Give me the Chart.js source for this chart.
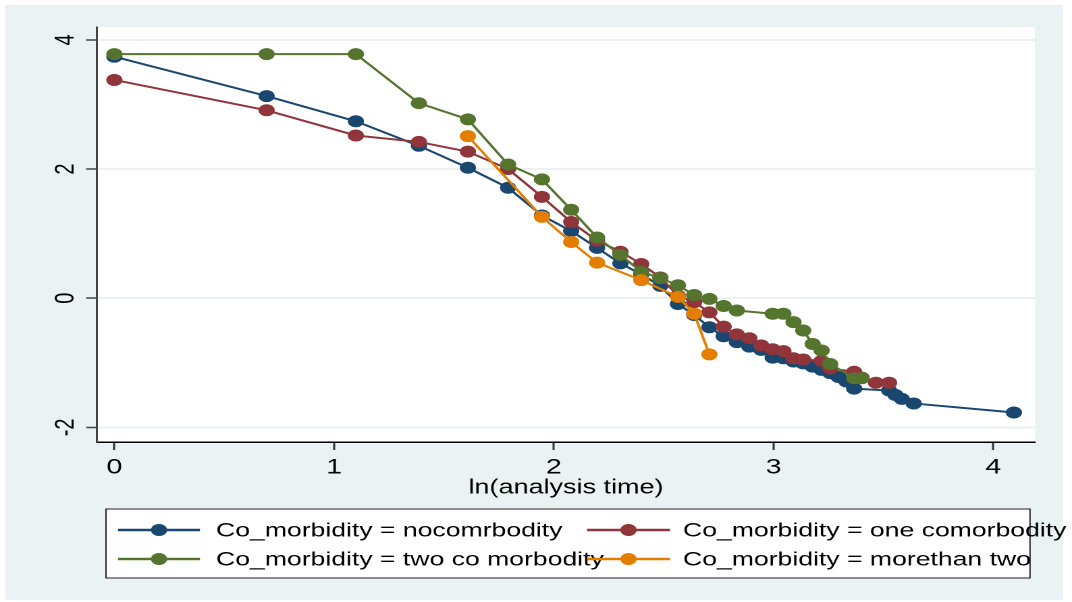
<!DOCTYPE html>
<html><head><meta charset="utf-8">
<script src="https://cdn.jsdelivr.net/npm/chart.js@4.4.1/dist/chart.umd.min.js"></script>
<style>
html,body{margin:0;padding:0;background:#fff;}
#wrap{width:1072px;height:602px;overflow:hidden;}
canvas{display:block;}
</style></head><body>
<div id="wrap"><canvas id="c" width="794" height="602" style="width:1072px;height:602px"></canvas></div>
<script>
// ---- data ----
const seriesLabels = [
  'Co_morbidity = nocomrbodity',
  'Co_morbidity = one comorbodity',
  'Co_morbidity = two co morbodity',
  'Co_morbidity = morethan two'
];
const seriesColors = ['#1a476f', '#90353b', '#55752f', '#e37e00'];
const xTitle = 'ln(analysis time)';
const xTicks = [0, 1, 2, 3, 4];
const yTicks = [-2, 0, 2, 4];

const noneX = [0, 0.693, 1.099, 1.386, 1.609, 1.792, 1.946, 2.079, 2.197, 2.303, 2.398, 2.485, 2.565, 2.639, 2.708, 2.773, 2.833, 2.890, 2.944, 2.996, 3.045, 3.091, 3.135, 3.178, 3.219, 3.258, 3.296, 3.332, 3.367, 3.526, 3.555, 3.584, 3.638, 4.094];
const noneY = [3.74, 3.13, 2.74, 2.36, 2.02, 1.71, 1.28, 1.04, 0.78, 0.54, 0.37, 0.19, -0.09, -0.26, -0.45, -0.59, -0.68, -0.75, -0.80, -0.92, -0.93, -0.98, -1.01, -1.06, -1.11, -1.16, -1.22, -1.29, -1.40, -1.43, -1.50, -1.56, -1.63, -1.77];

const oneX = [0, 0.693, 1.099, 1.386, 1.609, 1.792, 1.946, 2.079, 2.197, 2.303, 2.398, 2.485, 2.565, 2.639, 2.708, 2.773, 2.833, 2.890, 2.944, 2.996, 3.045, 3.091, 3.135, 3.219, 3.258, 3.367, 3.401, 3.466, 3.526];
const oneY = [3.38, 2.91, 2.52, 2.42, 2.27, 2.00, 1.57, 1.18, 0.89, 0.72, 0.53, 0.32, 0.04, -0.06, -0.22, -0.44, -0.56, -0.62, -0.73, -0.79, -0.82, -0.93, -0.95, -0.97, -1.09, -1.14, -1.23, -1.31, -1.31];

const twoX = [0, 0.693, 1.099, 1.386, 1.609, 1.792, 1.946, 2.079, 2.197, 2.303, 2.398, 2.485, 2.565, 2.639, 2.708, 2.773, 2.833, 2.996, 3.045, 3.091, 3.135, 3.178, 3.219, 3.258, 3.367, 3.401];
const twoY = [3.78, 3.78, 3.78, 3.02, 2.77, 2.07, 1.84, 1.37, 0.94, 0.67, 0.41, 0.31, 0.20, 0.05, -0.01, -0.12, -0.19, -0.24, -0.24, -0.37, -0.50, -0.71, -0.81, -1.02, -1.24, -1.24];

const moreX = [1.609, 1.946, 2.079, 2.197, 2.398, 2.565, 2.639, 2.708];
const moreY = [2.51, 1.26, 0.87, 0.55, 0.28, 0.02, -0.24, -0.87];

// ---- build ----
const SX = 1072 / 794;           // the reference is stretched horizontally
const FONT = '"Liberation Sans", Arial, sans-serif';
const xs = [noneX, oneX, twoX, moreX];
const ys = [noneY, oneY, twoY, moreY];
const BG = '#eaf2f3';

const datasets = seriesLabels.map((lab, i) => ({
  label: lab,
  data: xs[i].map((x, k) => ({x: x, y: ys[i][k]})),
  showLine: true,
  borderColor: seriesColors[i],
  backgroundColor: seriesColors[i],
  pointBackgroundColor: seriesColors[i],
  pointBorderColor: seriesColors[i],
  borderWidth: 2,
  pointRadius: 5.5,
  pointBorderWidth: 1,
  pointHoverRadius: 5.5,
  tension: 0,
  order: 4 - i
}));

const bgPlugin = {
  id: 'bg',
  beforeDraw(chart) {
    const ctx = chart.ctx, a = chart.chartArea;
    ctx.save();
    ctx.fillStyle = '#ffffff';
    ctx.fillRect(0, 0, chart.width, chart.height);
    ctx.fillStyle = BG;
    ctx.fillRect(5 / SX, 5, (1063 - 5) / SX, 595);
    ctx.fillStyle = '#ffffff';
    ctx.fillRect(a.left, a.top, a.right - a.left, a.bottom - a.top);
    ctx.restore();
  }
};

const legendPlugin = {
  id: 'stataLegend',
  afterDraw(chart) {
    const ctx = chart.ctx;
    const box = {x: 106 / SX, y: 509, w: (1030 - 106) / SX, h: 69};
    ctx.save();
    ctx.fillStyle = '#ffffff';
    ctx.fillRect(box.x, box.y, box.w, box.h);
    ctx.strokeStyle = '#222';
    ctx.lineWidth = 1;
    ctx.strokeRect(box.x, box.y, box.w, box.h);
    const cols = [{l: 118 / SX, r: 200 / SX, t: 216 / SX}, {l: 587 / SX, r: 670 / SX, t: 683 / SX}];
    const rows = [530, 559];
    ctx.font = '19.7px ' + FONT;
    ctx.textBaseline = 'middle';
    ctx.textAlign = 'left';
    seriesLabels.forEach((lab, i) => {
      const c = cols[i % 2], y = rows[Math.floor(i / 2)];
      ctx.strokeStyle = seriesColors[i];
      ctx.lineWidth = 2.5;
      ctx.beginPath(); ctx.moveTo(c.l, y); ctx.lineTo(c.r, y); ctx.stroke();
      ctx.fillStyle = seriesColors[i];
      ctx.beginPath(); ctx.arc((c.l + c.r) / 2, y, 6, 0, Math.PI * 2); ctx.fill();
      ctx.fillStyle = '#000';
      ctx.fillText(lab, c.t, y + 1);
    });
    ctx.restore();
  }
};

new Chart(document.getElementById('c'), {
  type: 'scatter',
  data: {datasets},
  options: {
    responsive: false,
    devicePixelRatio: 2,
    animation: false,
    layout: {padding: {left: 97 / SX - 60, right: 794 - 1035 / SX, top: 27, bottom: 100}},
    plugins: {legend: {display: false}, tooltip: {enabled: false}},
    scales: {
      x: {
        type: 'linear', position: 'bottom',
        min: -0.079, max: 4.19,
        afterBuildTicks: s => { s.ticks = xTicks.map(v => ({value: v})); },
        ticks: {stepSize: 1, includeBounds: false, color: '#000', padding: 5, maxRotation: 0,
                font: {family: FONT, size: 21}},
        grid: {drawOnChartArea: false, drawTicks: true, tickLength: 8, tickColor: '#333', tickWidth: 1.5},
        border: {display: true, color: '#000', width: 1.5},
        title: {display: true, text: xTitle, color: '#000', font: {family: FONT, size: 20},
                padding: {top: 0, bottom: 2}},
        afterFit: s => { s.height = 60; }
      },
      y: {
        type: 'linear', position: 'left',
        min: -2.227, max: 4.2,
        afterBuildTicks: s => { s.ticks = yTicks.map(v => ({value: v})); },
        ticks: {stepSize: 2, includeBounds: false, color: '#000', padding: 6,
                minRotation: 90, maxRotation: 90, crossAlign: 'center',
                font: {family: FONT, size: 20}},
        grid: {color: BG, lineWidth: 2, drawTicks: true, tickLength: 8, tickColor: '#444', tickWidth: 1.5},
        border: {display: true, color: '#444', width: 1.5},
        afterFit: s => { s.width = 60; }
      }
    }
  },
  plugins: [bgPlugin, legendPlugin]
});
</script>
</body></html>
